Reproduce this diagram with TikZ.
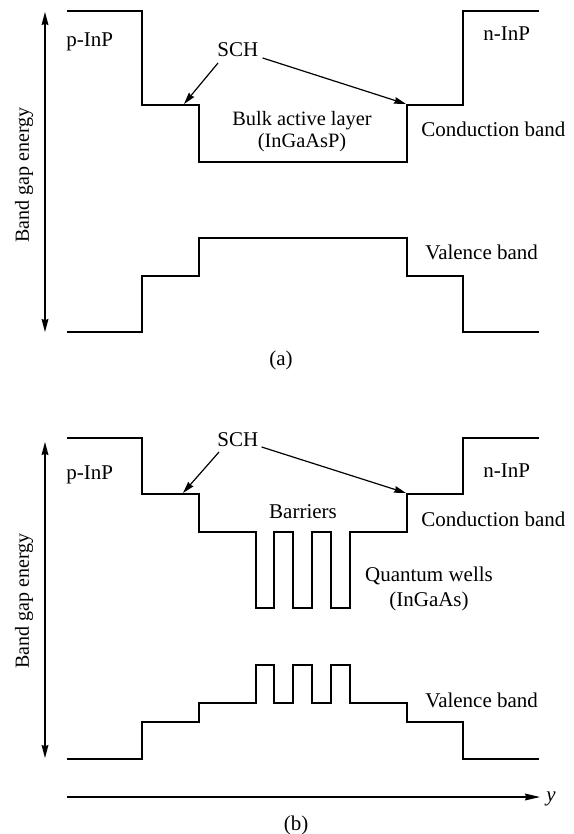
\documentclass[tikz,border=0pt]{standalone}
\usepackage{fontspec}
\setmainfont{Liberation Serif}
\usetikzlibrary{arrows.meta}
\tikzset{
  band/.style={line width=1pt, line join=miter},
  pointer/.style={-{Stealth[length=6pt, width=3.4pt, inset=0.6pt]}, line width=0.6pt},
  energy/.style={{Stealth[length=6.5pt, width=3.4pt, inset=0.6pt]}-{Stealth[length=6.5pt, width=3.4pt, inset=0.6pt]}, line width=0.6pt},
  axis/.style={-{Stealth[length=7.5pt, width=3.4pt, inset=0.6pt]}, line width=0.6pt},
  lbl/.style={inner sep=0pt, font=\fontsize{10.5}{12.5}\selectfont},
  vlbl/.style={inner sep=0pt, rotate=90, font=\fontsize{10}{12}\selectfont},
}

\begin{document}
\begin{tikzpicture}[x=0.5pt, y=-0.5pt]
  \useasboundingbox (0,0) rectangle (573,834);

  % ---- (a) bulk active layer ----
  \draw[band] (67,11) -| (142,105) -| (199,162) -| (407,105) -| (463,11) -- (539,11);
  \draw[band] (67,332) -| (142,276) -| (199,238) -| (407,276) -| (463,332) -- (539,332);

  \coordinate (etopa) at (45,12);
  \coordinate (ebota) at (45,332);
  \draw[energy] (ebota) -- (etopa);
  \node[vlbl] (enga) at (24,175) {Band gap energy};

  \node[lbl, anchor=base west] (pinpa) at (66,47)   {p-InP};
  \node[lbl, anchor=base west] (ninpa) at (483,41)  {n-InP};
  \node[lbl, anchor=base west] (scha)  at (217,57)  {SCH};
  \node[lbl, anchor=base west] (cba)   at (421,137) {Conduction band};
  \node[lbl, anchor=base west] (vba)   at (425,259) {Valence band};
  \node[lbl, align=center, font=\fontsize{10.2}{10.7}\selectfont] (bulk) at (302,131.5)
    {Bulk active layer\\(InGaAsP)};
  \node[lbl, anchor=base] (capa) at (281,365) {(a)};

  \coordinate (schla) at (184,104);
  \coordinate (schra) at (406,104);
  \draw[pointer] ([shift={(1,6)}]scha.base west) -- (schla);
  \draw[pointer] ([shift={(4,1)}]scha.base east) -- (schra);

  % ---- (b) quantum wells ----
  \draw[band] (67,438) -| (142,494) -| (199,532) -| (256,608) -| (274,532)
    -| (293,608) -| (312,532) -| (331,608) -| (350,532) -| (407,494) -| (463,438) -- (539,438);
  \draw[band] (67,759) -| (142,722) -| (199,703) -| (256,665) -| (274,703)
    -| (293,665) -| (312,703) -| (331,665) -| (350,703) -| (407,722) -| (463,759) -- (539,759);

  \coordinate (etopb) at (45,442);
  \coordinate (ebotb) at (45,758);
  \draw[energy] (ebotb) -- (etopb);
  \node[vlbl] (engb) at (24,601) {Band gap energy};

  \node[lbl, anchor=base west] (pinpb) at (66,479)  {p-InP};
  \node[lbl, anchor=base west] (ninpb) at (483,477) {n-InP};
  \node[lbl, anchor=base west] (schb)  at (217,446) {SCH};
  \node[lbl, anchor=base west] (cbb)   at (421,526) {Conduction band};
  \node[lbl, anchor=base west] (vbb)   at (425,707) {Valence band};
  \node[lbl, anchor=base] (barr) at (303,518) {Barriers};
  \node[lbl, align=center] (qw) at (429,589)
    {Quantum wells\\(InGaAs)};

  \coordinate (schlb) at (183,493);
  \coordinate (schrb) at (406,493);
  \draw[pointer] ([shift={(2,6)}]schb.base west) -- (schlb);
  \draw[pointer] ([shift={(3,1)}]schb.base east) -- (schrb);

  % position axis
  \coordinate (ystart) at (67,797);
  \coordinate (yend) at (540,797);
  \draw[axis] (ystart) -- (yend);
  \node[lbl, anchor=base west] (ylab) at (546,801) {\textit{y}};
  \node[lbl, anchor=base] (capb) at (296,830) {(b)};
\end{tikzpicture}
\end{document}
